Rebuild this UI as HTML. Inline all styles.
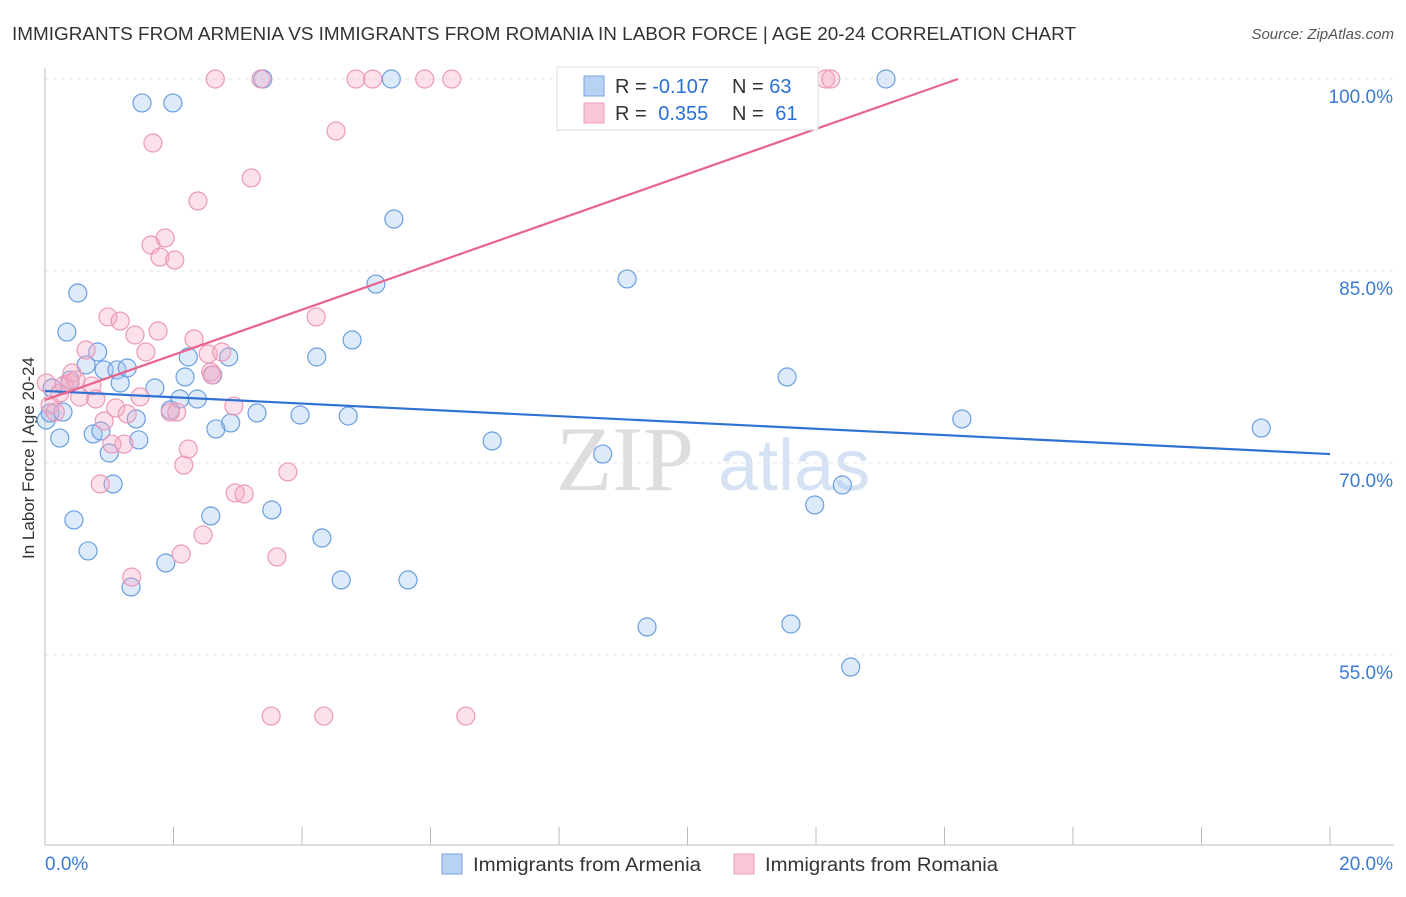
<!DOCTYPE html>
<html><head><meta charset="utf-8"><style>
body{margin:0;background:#fff;font-family:"Liberation Sans",sans-serif;}
</style></head><body>
<svg id="c" width="1406" height="892" xmlns="http://www.w3.org/2000/svg" font-family="Liberation Sans, sans-serif">
<text x="12" y="40" font-size="18" fill="#333" textLength="1064" lengthAdjust="spacingAndGlyphs">IMMIGRANTS FROM ARMENIA VS IMMIGRANTS FROM ROMANIA IN LABOR FORCE | AGE 20-24 CORRELATION CHART</text>
<text x="1394" y="39" font-size="15" fill="#555" font-style="italic" text-anchor="end">Source: ZipAtlas.com</text>
<text x="34" y="458" font-size="17" fill="#333" text-anchor="middle" transform="rotate(-90 34 458)">In Labor Force | Age 20-24</text>
<text x="556" y="490" font-size="92" fill="#ddd" font-family="Liberation Serif, serif">ZIP</text>
<text x="718" y="490" font-size="72" fill="#d4e2f4">atlas</text>
<g id="grid"></g><g id="pts"></g><g id="lines"></g>
<g>
<rect x="557" y="67" width="261" height="63" fill="#fff" stroke="#ddd"/>
<rect x="584" y="76" width="20" height="20" fill="#b8d2f4" stroke="#7aa6e0"/>
<rect x="584" y="103" width="20" height="20" fill="#f8c6d6" stroke="#eca0bc"/>
<text x="615" y="93" font-size="20" fill="#333">R = <tspan fill="#2a6fd6">-0.107</tspan><tspan x="732">N = </tspan><tspan fill="#2a6fd6">63</tspan></text>
<text x="615" y="120" font-size="20" fill="#333">R = <tspan fill="#2a6fd6" dx="6">0.355</tspan><tspan x="732">N = </tspan><tspan fill="#2a6fd6" dx="6">61</tspan></text>
</g>
<g>
<rect x="442" y="854" width="20" height="20" fill="#b8d2f4" stroke="#7aa6e0"/>
<text x="473" y="871" font-size="19" fill="#333" textLength="228" lengthAdjust="spacingAndGlyphs">Immigrants from Armenia</text>
<rect x="734" y="854" width="20" height="20" fill="#f8c6d6" stroke="#eca0bc"/>
<text x="765" y="871" font-size="19" fill="#333" textLength="233" lengthAdjust="spacingAndGlyphs">Immigrants from Romania</text>
</g>
</svg>
<script>
const xTicks=[0,2.5,5,7.5,10,12.5,15,17.5,20];
const yTicks=[55,70,85,100];
const blueX=[0.02,0.08,0.11,0.23,0.28,0.34,0.39,0.45,0.51,0.64,0.67,0.75,0.82,0.87,0.92,1.00,1.06,1.12,1.17,1.28,1.34,1.42,1.46,1.51,1.71,1.88,1.95,1.99,2.10,2.18,2.23,2.37,2.58,2.61,2.66,2.86,2.89,3.30,3.39,3.53,3.97,4.23,4.31,4.61,4.72,4.78,5.15,5.39,5.43,5.65,6.96,8.68,9.06,9.37,11.55,11.61,11.98,12.41,12.54,13.09,14.27,18.93];
const blueY=[73.36,73.91,75.86,71.95,73.98,80.23,76.48,65.55,83.28,77.66,63.13,72.27,78.67,72.50,77.27,70.78,68.36,77.27,76.25,77.42,60.31,73.44,71.80,98.13,75.86,62.19,74.14,98.13,75.0,76.72,78.28,75.0,65.86,76.88,72.66,78.28,73.13,73.91,100,66.33,73.75,78.28,64.14,60.86,73.67,79.61,83.98,100,89.06,60.86,71.72,70.70,84.38,57.19,76.72,57.42,66.72,68.28,54.06,100,73.44,72.73];
const pinkX=[0.02,0.08,0.16,0.23,0.30,0.39,0.42,0.48,0.54,0.64,0.73,0.79,0.86,0.92,0.98,1.04,1.10,1.17,1.23,1.28,1.35,1.40,1.48,1.57,1.65,1.68,1.76,1.79,1.87,1.95,2.02,2.05,2.12,2.16,2.23,2.32,2.38,2.46,2.54,2.58,2.65,2.75,2.94,2.96,3.10,3.21,3.36,3.61,3.78,4.22,4.34,4.53,4.84,5.10,5.91,6.33,6.55,3.52,12.15,12.23,2.60];
const pinkY=[76.25,74.53,73.98,75.47,76.09,76.25,77.03,76.48,75.16,78.83,76.02,75.0,68.36,73.28,81.41,71.48,74.30,81.09,71.48,73.83,61.09,80.0,75.16,78.67,87.03,95.0,80.31,86.09,87.58,73.98,85.86,73.98,62.89,69.84,71.09,79.69,90.47,64.38,78.52,77.11,100,78.67,74.45,67.66,67.58,92.27,100,62.66,69.30,81.41,50.23,95.94,100,100,100,100,50.23,50.23,100,100,76.88];
const blueTrend=[75.63,-0.2465];
const pinkTrend=[74.92,1.765];
const NS='http://www.w3.org/2000/svg';
const X0=45,X1=1330,Y100=79,PX=192/15;
const sx=v=>X0+(v/20)*(X1-X0);
const sy=v=>Y100+(100-v)*PX;
function mk(t,a,p){const e=document.createElementNS(NS,t);for(const k in a)e.setAttribute(k,a[k]);p.appendChild(e);return e;}
const g=document.getElementById('grid');
yTicks.forEach(v=>{
 const l=mk('line',{x1:X0,x2:1394,y1:sy(v),y2:sy(v),stroke:'#e4e4e4','stroke-dasharray':'4,4'},g);
 
 
 const t=mk('text',{x:1393,y:sy(v)+24,'font-size':19,fill:'#3b7ad8','text-anchor':'end'},g);
 t.textContent=v.toFixed(1)+'%';
 
 
});
mk('line',{x1:X0,x2:X0,y1:68,y2:845,stroke:'#bbb'},g);
mk('line',{x1:X0,x2:1394,y1:845,y2:845,stroke:'#bbb'},g);
for(let i=0;i<=10;i++){const x=X0+i*(X1-X0)/10;const l=mk('line',{x1:x,x2:x,y1:827,y2:845,stroke:'#bbb'},g);
 
 }
[[0,'0.0%','start',45],[20,'20.0%','end',1393]].forEach(d=>{const t=mk('text',{x:d[3],y:870,'font-size':19,fill:'#3b7ad8','text-anchor':d[2]},g);t.textContent=d[1];
 
 });
const p=document.getElementById('pts');
function dots(xs,ys,fill,stroke,name){xs.forEach((x,i)=>{const c=mk('circle',{cx:sx(x),cy:sy(ys[i]),r:9,fill:fill,'fill-opacity':0.35,stroke:stroke,'stroke-width':1.2},p);
 
 });}
dots(blueX,blueY,'#9fc2f0','#6a9ee0','armenia-point');
dots(pinkX,pinkY,'#f5aac4','#ec98b8','romania-point');
const L=document.getElementById('lines');
let bl=mk('line',{x1:sx(0),y1:sy(blueTrend[0]),x2:sx(20),y2:sy(blueTrend[0]+20*blueTrend[1]),stroke:'#2f72d4','stroke-width':2.2},L);


let xe=Math.min(20,(100-pinkTrend[0])/pinkTrend[1]);
let pl=mk('line',{x1:sx(0),y1:sy(pinkTrend[0]),x2:sx(xe),y2:sy(pinkTrend[0]+xe*pinkTrend[1]),stroke:'#e8648f','stroke-width':2.2},L);


</script>
</body></html>
